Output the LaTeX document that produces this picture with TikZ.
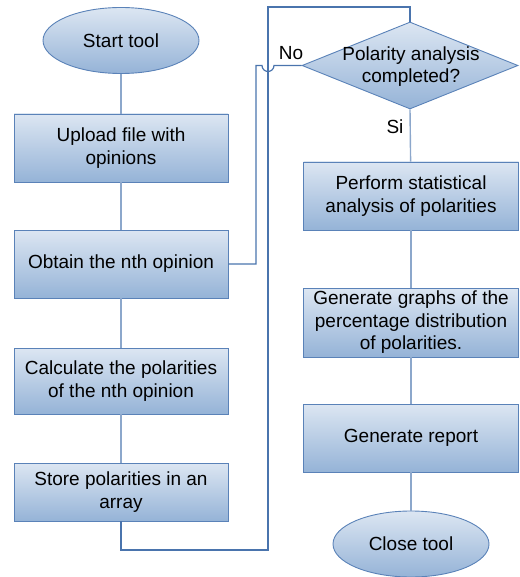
\documentclass[tikz,border=0pt]{standalone}
\usepackage{fontspec}
\setmainfont{Liberation Sans}
\usetikzlibrary{shapes.geometric}
\definecolor{fillTop}{HTML}{DCE6F2}
\definecolor{fillBot}{HTML}{95B3D7}
\definecolor{edgeC}{HTML}{5A82B8}
\definecolor{linkC}{HTML}{8CA7CB}
\definecolor{loopC}{HTML}{4A74AD}
\begin{document}
\begin{tikzpicture}[x=1pt,y=-1pt,
  txt/.style={align=center,font=\fontsize{19}{22.5}\selectfont,text=black,inner sep=0pt},
  grad/.style={top color=fillTop,bottom color=fillBot,draw=edgeC,line width=0.9pt},
  procbox/.style={grad,txt,rectangle,minimum width=214pt},
  term/.style={grad,txt,ellipse,minimum width=156pt,minimum height=66pt},
  decision/.style={grad,diamond,minimum width=216pt,minimum height=87pt,inner sep=0pt},
  link/.style={draw=linkC,line width=1.4pt},
  loop/.style={draw=loopC,line width=1.2pt},
  lab/.style={font=\fontsize{19}{22.5}\selectfont,inner sep=0pt}]
\useasboundingbox (0,0) rectangle (519,577);

\node[term] (start) at (121,40.5) {Start tool};
\node[procbox,minimum height=68pt] (upload) at (121,148) {Upload file with\\opinions};
\node[procbox,minimum height=68pt] (obtain) at (121,264) {Obtain the nth opinion};
\node[procbox,minimum height=66pt] (calc) at (121,381) {Calculate the polarities\\of the nth opinion};
\node[procbox,minimum height=58pt] (store) at (121,492) {Store polarities in an\\array};

\node[decision] (dec) at (410,65.5) {};
\node[txt] (dectext) at (411,66.5) {Polarity analysis\\completed?};
\node[procbox,minimum width=215pt,minimum height=68pt] (perform) at (411,196) {Perform statistical\\analysis of polarities};
\node[procbox,minimum width=215pt,minimum height=69pt] (graphs) at (411,322.5) {Generate graphs of the\\percentage distribution\\of polarities.};
\node[procbox,minimum width=215pt,minimum height=68pt] (report) at (411,438) {Generate report};
\node[term] (close) at (411,544) {Close tool};

\coordinate (b1) at (121,550);
\coordinate (b2) at (268,550);
\coordinate (b3) at (268,7);
\coordinate (b4) at (410,7);
\coordinate (n1) at (256,264);
\coordinate (n2) at (256,65.5);
\coordinate (h1) at (262,65.5);

\draw[link] (start) -- (upload);
\draw[link] (upload) -- (obtain);
\draw[link] (obtain) -- (calc);
\draw[link] (calc) -- (store);
\draw[link] (dec.south) -- (perform);
\draw[link] (perform) -- (graphs);
\draw[link] (graphs) -- (report);
\draw[link] (report) -- (close);

\draw[loop] (store.south) -- (b1) -- (b2) -- (b3) -- (b4) -- (dec.north);
\draw[loop] (obtain.east) -- (n1) -- (n2) -- (h1) arc[start angle=180,end angle=0,radius=6] -- (dec.west);

\node[lab] (no) at (291,53) {No};
\node[lab] (si) at (395,127) {Si};
\end{tikzpicture}
\end{document}
